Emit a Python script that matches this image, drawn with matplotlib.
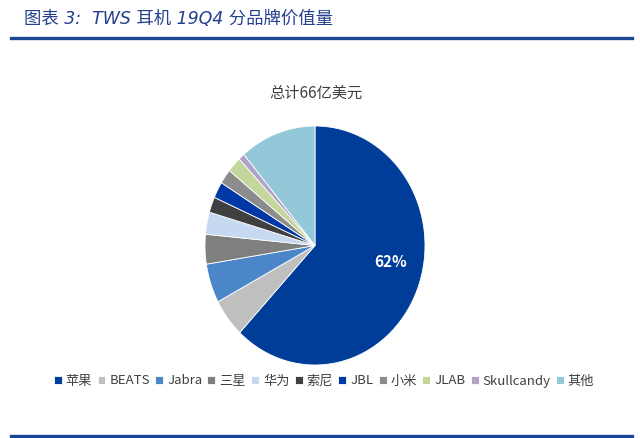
import matplotlib
matplotlib.use('Agg')
import matplotlib.pyplot as plt
from matplotlib.lines import Line2D

plt.rcParams['font.family'] = ['Noto Sans CJK SC', 'DejaVu Sans']

brands = ['苹果', 'BEATS', 'Jabra', '三星', '华为', '索尼', 'JBL', '小米', 'JLAB', 'Skullcandy', '其他']
shares = [62, 5.2, 5.3, 4, 3, 2.1, 2.2, 2, 2.1, 0.9, 11.2]
colors = ['#003d99', '#bfbfbf', '#4a86c8', '#7f7f7f', '#c6d9f0', '#404040',
          '#0039a6', '#8c8c8c', '#c3d69b', '#b3a2c7', '#93c8d8']
title = '图表 3:  TWS 耳机 19Q4 分品牌价值量'
subtitle = '总计66亿美元'

fig = plt.figure(figsize=(6.4, 4.38), dpi=100)

# title and rules
fig.text(24 / 640, 1 - 19 / 438, title, fontsize=12.5, color='#23408e', style='italic',
         family=['DejaVu Sans', 'Noto Sans CJK SC'], va='center', ha='left')
fig.add_artist(Line2D([11 / 640, 632 / 640], [1 - 38 / 438] * 2, color='#1b4696', lw=2.4))
fig.add_artist(Line2D([11 / 640, 632 / 640], [1 - 435.5 / 438] * 2, color='#1b4696', lw=2.4))

fig.text(316 / 640, 1 - 93 / 438, subtitle, fontsize=11, color='#404040', ha='center', va='center')

ax = fig.add_axes([205 / 640, 1 - 365 / 438, 220 / 640, 239 / 438])
wedges, texts, autotexts = ax.pie(
    shares, colors=colors, startangle=90, counterclock=False, radius=1,
    autopct=lambda p: '%d%%' % round(p) if p > 50 else '', pctdistance=0.7,
    wedgeprops=dict(edgecolor='white', linewidth=0.6),
    textprops=dict(color='white', fontsize=11, fontweight='bold'))
ax.set_aspect('auto')
ax.set_xlim(-1, 1)
ax.set_ylim(-1, 1)
autotexts[0].set_position((0.69, -0.14))

fig.legend(wedges, brands, loc='center', bbox_to_anchor=(324 / 640, 1 - 381 / 438), ncol=11,
           frameon=False, fontsize=9.5, handlelength=0.6, handleheight=0.6,
           handletextpad=0.3, columnspacing=0.4, labelcolor='#404040', borderpad=0)

fig.savefig('out.png', dpi=100)
